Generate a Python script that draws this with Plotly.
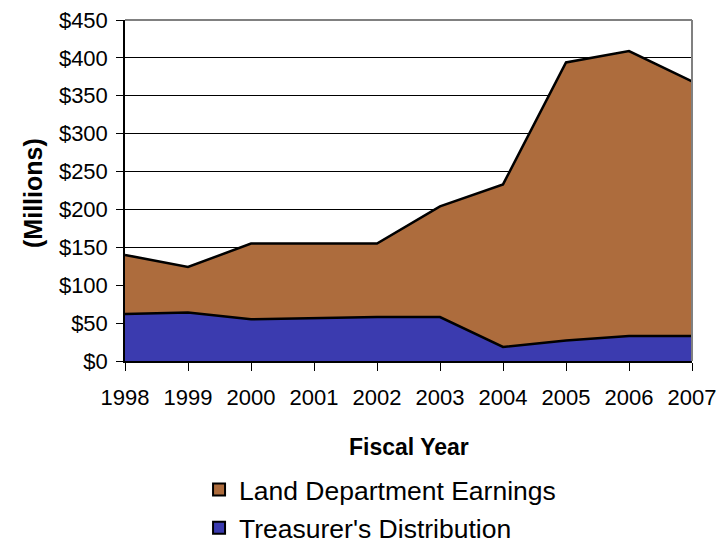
import plotly.graph_objects as go

years = [1998, 1999, 2000, 2001, 2002, 2003, 2004, 2005, 2006, 2007]
treasurer = [62, 64, 55, 57, 58, 58, 18.5, 27, 33, 33]
land = [78, 60, 100, 98, 97, 146, 214.5, 367, 376, 336]
y_ticks = [0, 50, 100, 150, 200, 250, 300, 350, 400, 450]
y_labels = ["$" + str(v) for v in y_ticks]

BROWN = "#AD6C3D"
BLUE = "#3B3BAF"
FONT = "Liberation Sans, Arial, sans-serif"

fig = go.Figure()
fig.add_trace(go.Scatter(
    x=years, y=treasurer, stackgroup="one", mode="lines",
    line=dict(color="black", width=2.5), fillcolor=BLUE,
    name="Treasurer's Distribution", showlegend=False,
))
fig.add_trace(go.Scatter(
    x=years, y=land, stackgroup="one", mode="lines",
    line=dict(color="black", width=2.5), fillcolor=BROWN,
    name="Land Department Earnings", showlegend=False,
))
# legend entries
fig.add_trace(go.Scatter(
    x=[None], y=[None], mode="markers", name="Land Department Earnings",
    legendgroup="land",
    marker=dict(symbol="square", size=15, color=BROWN, line=dict(color="black", width=2)),
))
fig.add_trace(go.Scatter(
    x=[None], y=[None], mode="markers", name="Treasurer's Distribution",
    legendgroup="treas",
    marker=dict(symbol="square", size=15, color=BLUE, line=dict(color="black", width=2)),
))

fig.update_layout(
    width=717, height=539,
    margin=dict(l=117, r=33, t=12, b=186, autoexpand=False),
    paper_bgcolor="white", plot_bgcolor="white",
    font=dict(family=FONT, color="black"),
    showlegend=True,
    legend=dict(
        x=0.1306, xanchor="left", y=-0.307, yanchor="top",
        font=dict(size=26.5, family=FONT, color="black"),
        traceorder="grouped",
        itemsizing="constant", tracegroupgap=1, itemwidth=30,
        bgcolor="rgba(0,0,0,0)",
    ),
    xaxis=dict(
        range=[1998, 2007], tickmode="array", tickvals=years,
        ticktext=[str(y) for y in years],
        tickfont=dict(size=22, family=FONT),
        ticks="outside", ticklen=8, tickcolor="black", tickwidth=1,
        ticklabelstandoff=8, ticklabeloverflow="allow",
        showgrid=False, showline=True, linecolor="black", linewidth=1.5,
        zeroline=False, automargin=False,
    ),
    yaxis=dict(
        range=[0, 450], tickmode="array", tickvals=y_ticks, ticktext=y_labels,
        tickfont=dict(size=22, family=FONT),
        ticks="outside", ticklen=7, tickcolor="black", tickwidth=1,
        ticklabelstandoff=4, ticklabeloverflow="allow",
        showgrid=True, gridcolor="black", gridwidth=1,
        showline=True, linecolor="black", linewidth=1.5,
        zeroline=False, automargin=False,
    ),
    annotations=[
        dict(text="<b>(Millions)</b>", xref="paper", yref="paper",
             x=-0.1623, y=0.4927, textangle=-90, showarrow=False,
             xanchor="center", yanchor="middle",
             font=dict(size=25, family=FONT, color="black")),
        dict(text="<b>Fiscal Year</b>", xref="paper", yref="paper",
             x=0.501, y=-0.252, showarrow=False,
             xanchor="center", yanchor="middle",
             font=dict(size=23, family=FONT, color="black")),
    ],
    shapes=[
        dict(type="line", xref="paper", yref="paper", x0=0, x1=1, y0=1, y1=1,
             line=dict(color="#808080", width=2)),
        dict(type="line", xref="paper", yref="paper", x0=1, x1=1, y0=0, y1=1,
             line=dict(color="#808080", width=2)),
    ],
)

fig.write_html("out.html")
